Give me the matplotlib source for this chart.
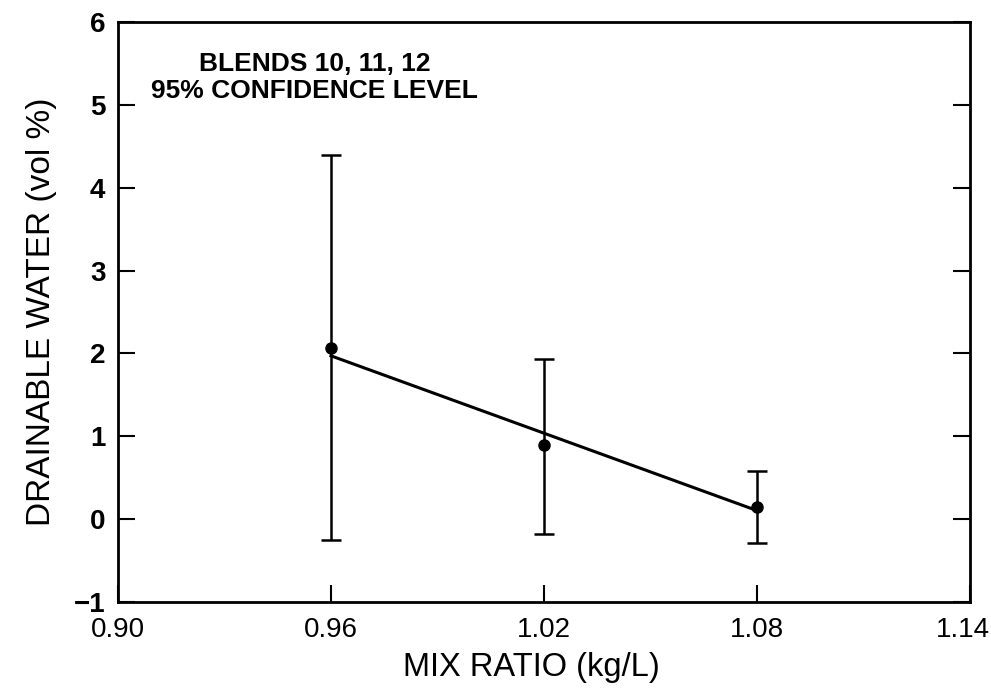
import matplotlib
matplotlib.use('Agg')
import matplotlib.pyplot as plt
from matplotlib.transforms import ScaledTranslation

plt.rcParams['font.family'] = ['Liberation Sans', 'DejaVu Sans']

# mix ratio (kg/L) and drainable water (vol %) with 95% confidence limits
mix_ratio = [0.96, 1.02, 1.08]
water = [2.07, 0.89, 0.14]
upper = [4.40, 1.93, 0.58]
lower = [-0.26, -0.18, -0.29]

# fitted line end points
fit_x = [0.96, 1.08]
fit_y = [1.97, 0.10]

xticks = [0.90, 0.96, 1.02, 1.08, 1.14]
yticks = [-1, 0, 1, 2, 3, 4, 5, 6]

err_lo = [w - l for w, l in zip(water, lower)]
err_hi = [u - w for u, w in zip(upper, water)]

fig = plt.figure(figsize=(9.91, 6.94), dpi=100)
ax = fig.add_axes([0.119, 0.133, 0.860, 0.835])

ax.errorbar(mix_ratio, water, yerr=[err_lo, err_hi], fmt='o', color='black',
            markersize=8, ecolor='black', elinewidth=1.8, capsize=7, capthick=1.8)
ax.plot(fit_x, fit_y, color='black', linewidth=2.2)

ax.set_xlim(0.90, 1.14)
ax.set_ylim(-1, 6)
ax.set_xticks(xticks)
ax.set_xticklabels(['%.2f' % t for t in xticks])
ax.set_yticks(yticks)
ax.set_yticklabels(['\u22121' if t == -1 else str(t) for t in yticks], fontweight='bold')

ax.tick_params(axis='x', direction='in', length=12, width=1.5, labelsize=20, pad=11)
ax.tick_params(axis='y', direction='in', length=12, width=1.5, labelsize=20, pad=9,
               right=True)
for s in ax.spines.values():
    s.set_linewidth(2)

# keep the last x label inside the figure, as in the scan
last = ax.get_xticklabels()[-1]
last.set_transform(last.get_transform() + ScaledTranslation(-7 / 100, 0, fig.dpi_scale_trans))

ax.set_xlabel('MIX RATIO (kg/L)', fontsize=23.5)
ax.xaxis.set_label_coords(0.485, -0.087)
ax.xaxis.label.set_va('top')
ax.set_ylabel('DRAINABLE WATER (vol %)', fontsize=24, labelpad=12)

ax.text(0.231, 0.948, 'BLENDS 10, 11, 12\n95% CONFIDENCE LEVEL', transform=ax.transAxes,
        fontsize=19, fontweight='bold', ha='center', va='top', linespacing=1.15)

fig.savefig('out.png', dpi=100)
